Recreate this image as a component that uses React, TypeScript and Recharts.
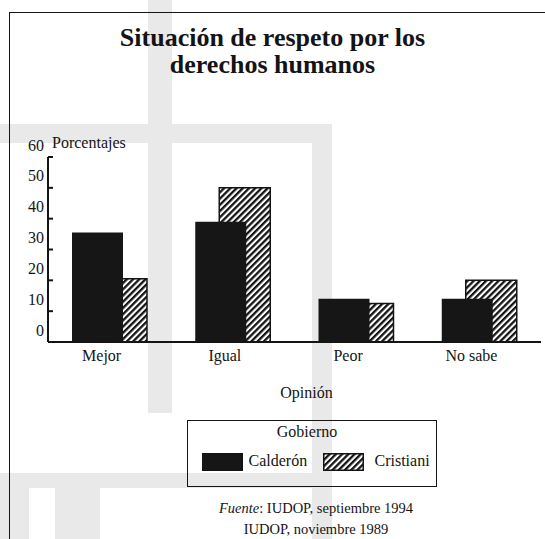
import React from "react";
import { BarChart, Bar, XAxis, YAxis, Legend } from "recharts";

// values (percent)
const categories = ["Mejor", "Igual", "Peor", "No sabe"];
const calderonValues = [35.5, 39, 14, 14];
const cristianiValues = [20.5, 50, 12.5, 20];
const yTicks = [0, 10, 20, 30, 40, 50, 60];
const seriesNames = ["Calderón", "Cristiani"];

const FONT = '"Liberation Serif", "DejaVu Serif", serif';
const INK = "#141414";
const SCAN_GRAY = "#e9e9e9";

const data = categories.map((opinion, i) => ({
  opinion,
  calderon: calderonValues[i],
  cristiani: cristianiValues[i],
}));

// faint grey bands from the scan, behind everything
const scanBands = [
  { left: 148, top: 0, width: 24, height: 413 },
  { left: 0, top: 124, width: 332, height: 19 },
  { left: 312, top: 124, width: 20, height: 415 },
  { left: 0, top: 473, width: 332, height: 15 },
  { left: 0, top: 488, width: 29, height: 51 },
  { left: 55, top: 488, width: 45, height: 51 },
];

const YTick = (props: any) => {
  const { x, y, payload } = props;
  return (
    <g>
      {payload.value > 0 && (
        <line x1={x + 4} x2={x + 9} y1={y} y2={y} stroke={INK} strokeWidth={2} />
      )}
      <text
        x={x}
        y={y - 12}
        textAnchor="end"
        dominantBaseline="central"
        fontSize={16}
        fontFamily={FONT}
        fill={INK}
      >
        {payload.value}
      </text>
    </g>
  );
};

const LegendBox = (props: any) => {
  const payload = props.payload || [];
  const items = seriesNames
    .map((n) => payload.find((p: any) => p.value === n))
    .filter(Boolean);
  const swatchX = [13.5, 134.5];
  const textX = [60.5, 186.5];
  return (
    <div
      style={{
        position: "relative",
        width: 250,
        height: 67,
        border: `1.5px solid ${INK}`,
        boxSizing: "border-box",
        fontFamily: FONT,
        color: INK,
        fontSize: 16,
      }}
    >
      <div
        style={{
          position: "absolute",
          top: 1,
          left: 0,
          width: 238,
          textAlign: "center",
          lineHeight: "20px",
        }}
      >
        Gobierno
      </div>
      {items.map((entry: any, i: number) => (
        <React.Fragment key={entry.value}>
          <svg
            width={41}
            height={18}
            style={{ position: "absolute", left: swatchX[i], top: 31.5 }}
          >
            <rect
              x={0.75}
              y={0.75}
              width={39.5}
              height={16.5}
              fill={entry.color}
              stroke={INK}
              strokeWidth={1.5}
            />
          </svg>
          <div
            style={{
              position: "absolute",
              left: textX[i],
              top: 30,
              lineHeight: "20px",
              whiteSpace: "nowrap",
            }}
          >
            {entry.value}
          </div>
        </React.Fragment>
      ))}
    </div>
  );
};

export default function App() {
  return (
    <div
      style={{
        position: "absolute",
        left: 0,
        top: 0,
        width: 545,
        height: 539,
        background: "#fff",
        overflow: "hidden",
        fontFamily: FONT,
        color: INK,
      }}
    >
      {scanBands.map((b, i) => (
        <div key={i} style={{ position: "absolute", background: SCAN_GRAY, ...b }} />
      ))}
      {/* frame of the original figure */}
      <div
        style={{
          position: "absolute",
          left: 9,
          top: 12,
          width: 540,
          height: 540,
          borderLeft: `1.5px solid ${INK}`,
          borderTop: `1.5px solid ${INK}`,
        }}
      />
      <svg width={0} height={0} style={{ position: "absolute" }}>
        <defs>
          <pattern
            id="hatchPattern"
            patternUnits="userSpaceOnUse"
            width={4.4}
            height={4.4}
            patternTransform="rotate(45)"
          >
            <rect x={0} y={0} width={4.4} height={4.4} fill="#fff" />
            <rect x={0} y={0} width={2.3} height={4.4} fill={INK} />
          </pattern>
        </defs>
      </svg>
      <div
        style={{
          position: "absolute",
          left: 0,
          top: 24,
          width: 545,
          textAlign: "center",
          fontSize: 26,
          fontWeight: "bold",
          lineHeight: "27px",
        }}
      >
        Situación de respeto por los
        <br />
        derechos humanos
      </div>
      <div style={{ position: "absolute", left: 0, top: 0 }}>
        <BarChart
          width={545}
          height={539}
          data={data}
          margin={{ top: 157, right: 4, bottom: 167, left: 8 }}
          barGap={-75}
        >
          <XAxis
            dataKey="opinion"
            height={30}
            tickLine={false}
            tickSize={0}
            tickMargin={8}
            axisLine={{ stroke: INK, strokeWidth: 2 }}
            tick={{ fill: INK, fontSize: 16, fontFamily: FONT, dx: -8 }}
            label={(p: any) => {
              const vb = p.viewBox;
              return (
                <text
                  x={vb.x + vb.width / 2 + 12}
                  y={vb.y + 56}
                  textAnchor="middle"
                  fontSize={16}
                  fontFamily={FONT}
                  fill={INK}
                >
                  Opinión
                </text>
              );
            }}
          />
          <YAxis
            width={40}
            domain={[0, 60]}
            ticks={yTicks}
            tickLine={false}
            tickSize={0}
            tickMargin={4}
            axisLine={{ stroke: INK, strokeWidth: 2 }}
            tick={YTick}
            label={(p: any) => {
              const vb = p.viewBox;
              return (
                <text
                  x={vb.x + vb.width + 4}
                  y={vb.y - 9}
                  fontSize={16}
                  fontFamily={FONT}
                  fill={INK}
                >
                  Porcentajes
                </text>
              );
            }}
          />
          <Legend
            layout="horizontal"
            verticalAlign="middle"
            align="center"
            content={LegendBox}
            wrapperStyle={{ position: "absolute", left: 187, top: 420, width: 250, height: 67 }}
          />
          <Bar
            dataKey="cristiani"
            name="Cristiani"
            fill="url(#hatchPattern)"
            stroke={INK}
            strokeWidth={1.5}
            barSize={51}
            isAnimationActive={false}
          />
          <Bar
            dataKey="calderon"
            name="Calderón"
            fill="#161616"
            barSize={51}
            isAnimationActive={false}
          />
        </BarChart>
      </div>
      <div
        style={{
          position: "absolute",
          left: 166,
          top: 497.5,
          width: 300,
          textAlign: "center",
          fontSize: 14.5,
          lineHeight: "21px",
        }}
      >
        <i>Fuente</i>: IUDOP, septiembre 1994
        <br />
        IUDOP, noviembre 1989
      </div>
    </div>
  );
}
